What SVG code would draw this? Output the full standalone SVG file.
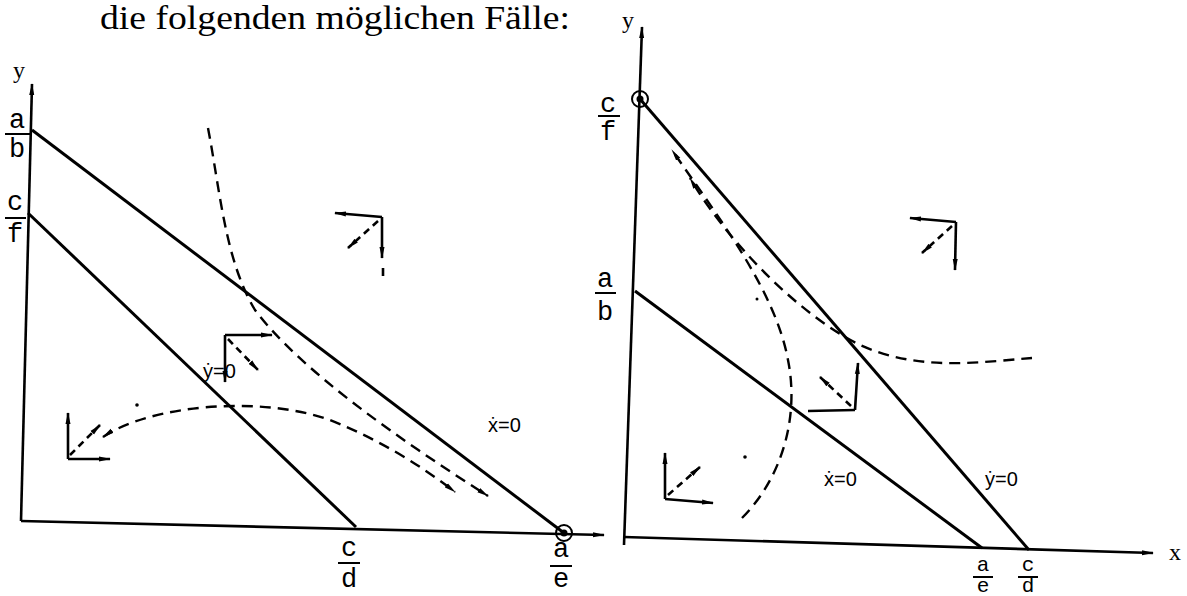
<svg xmlns="http://www.w3.org/2000/svg" width="1187" height="596" viewBox="0 0 1187 596">
<defs>
<marker id="ah" viewBox="0 0 12 6" refX="11" refY="3" markerWidth="12" markerHeight="6" markerUnits="userSpaceOnUse" orient="auto-start-reverse"><path d="M0,0.5 L12,3 L0,5.5 z" fill="#000"/></marker>
<style>
.ax{stroke:#000;stroke-width:2.6;fill:none}
.ln{stroke:#000;stroke-width:3;fill:none}
.ds{stroke:#000;stroke-width:2.4;fill:none;stroke-dasharray:11 7}
.ar{stroke:#000;stroke-width:2.6;fill:none}
.ad{stroke:#000;stroke-width:2.6;fill:none;stroke-dasharray:7 5}
.fr{font-family:"Liberation Mono",monospace;font-size:27px;fill:#000;text-anchor:middle}
.fs{font-family:"Liberation Mono",monospace;font-size:21px;fill:#000;text-anchor:middle}
.lb{font-family:"Liberation Sans",sans-serif;font-size:20px;fill:#000}
.bar{stroke:#000;stroke-width:2}
</style>
</defs>
<rect width="1187" height="596" fill="#fff"/>
<text x="100" y="29" font-family="Liberation Serif,serif" font-size="34" textLength="470" lengthAdjust="spacingAndGlyphs">die folgenden möglichen Fälle:</text>

<g id="left-axes">
<path class="ax" d="M21,521 L32,84" marker-end="url(#ah)"/>
<path class="ax" d="M21,521 L604,535" marker-end="url(#ah)"/>
<text x="13" y="78" font-family="Liberation Serif,serif" font-size="24">y</text>
</g>
<g id="left-line-ab">
<path class="ln" d="M32,130 L564,533"/>
<circle cx="564" cy="533" r="8" fill="none" stroke="#000" stroke-width="2"/>
<circle cx="564" cy="533" r="3.5" fill="#000"/>
</g>
<g id="left-line-cf"><path class="ln" d="M28,213 L356,527"/></g>
<g id="left-labels">
<text class="fr" x="17" y="128">a</text><line class="bar" x1="5" y1="134" x2="30" y2="134"/><text class="fr" x="17" y="157">b</text>
<text class="fr" x="15" y="210">c</text><line class="bar" x1="5" y1="218" x2="26" y2="218"/><text class="fr" x="15" y="242">f</text>
<text class="fr" x="349" y="556">c</text><line class="bar" x1="338" y1="563" x2="360" y2="563"/><text class="fr" x="349" y="587">d</text>
<text class="fr" x="561" y="557">a</text><line class="bar" x1="550" y1="566" x2="572" y2="566"/><text class="fr" x="561" y="587">e</text>
<text class="lb" x="203" y="378">ẏ=0</text>
<text class="lb" x="488" y="432">ẋ=0</text>
</g>
<g id="left-flows">
<path class="ds" d="M208,128 C220,190 225,260 255,310 C300,370 400,440 488,496" marker-end="url(#ah)"/>
<path class="ds" d="M103,437 C150,405 260,395 330,420 C380,440 420,465 455,492" marker-start="url(#ah)" marker-end="url(#ah)"/>
<circle cx="137" cy="405" r="1.8" fill="#000"/>
</g>
<g id="left-cluster-1">
<path class="ar" d="M68,459 L68,413" marker-end="url(#ah)"/>
<path class="ar" d="M68,459 L110,459" marker-end="url(#ah)"/>
<path class="ad" d="M70,455 L100,425" marker-end="url(#ah)"/>
</g>
<g id="left-cluster-2">
<path class="ar" d="M225,335 L272,335" marker-end="url(#ah)"/>
<path class="ar" d="M225,335 L225,382" marker-end="url(#ah)"/>
<path class="ad" d="M228,339 L258,370" marker-end="url(#ah)"/>
</g>
<g id="left-cluster-3">
<path class="ar" d="M382,217 L335,213" marker-end="url(#ah)"/>
<path class="ar" d="M382,217 L382,258" marker-end="url(#ah)"/>
<line class="ar" x1="383" y1="268" x2="383" y2="276"/>
<path class="ad" d="M378,221 L348,248" marker-end="url(#ah)"/>
</g>

<g id="right-axes">
<path class="ax" d="M624,545 L642,27" marker-end="url(#ah)"/>
<path class="ax" d="M624,537 L1153,553" marker-end="url(#ah)"/>
<text x="622" y="28" font-family="Liberation Serif,serif" font-size="24">y</text>
<text x="1169" y="560" font-family="Liberation Serif,serif" font-size="24">x</text>
</g>
<g id="right-line-cf">
<path class="ln" d="M640,99 L1029,550"/>
<circle cx="640" cy="99" r="8" fill="none" stroke="#000" stroke-width="2"/>
<circle cx="640" cy="99" r="3.5" fill="#000"/>
</g>
<g id="right-line-ab"><path class="ln" d="M635,291 L982,548"/></g>
<g id="right-labels">
<text class="fr" x="608" y="112">c</text><line class="bar" x1="598" y1="116" x2="620" y2="116"/><text class="fr" x="608" y="140">f</text>
<text class="fr" x="605" y="287">a</text><line class="bar" x1="595" y1="293" x2="616" y2="293"/><text class="fr" x="605" y="320">b</text>
<text class="fs" x="983" y="571">a</text><line class="bar" x1="973" y1="577" x2="993" y2="577"/><text class="fs" x="983" y="592">e</text>
<text class="fs" x="1028" y="571">c</text><line class="bar" x1="1018" y1="577" x2="1038" y2="577"/><text class="fs" x="1028" y="592">d</text>
<text class="lb" x="824" y="486">ẋ=0</text>
<text class="lb" x="985" y="486">ẏ=0</text>
</g>
<g id="right-flows">
<path class="ds" d="M742,518 C780,480 800,420 788,360 C775,290 720,220 672,150" marker-end="url(#ah)"/>
<path class="ds" d="M1032,358 C980,362 920,372 860,345 C790,310 720,230 690,178" marker-end="url(#ah)"/>
<circle cx="745" cy="457" r="1.8" fill="#000"/>
<circle cx="757" cy="299" r="1.5" fill="#000"/>
</g>
<g id="right-cluster-1">
<path class="ar" d="M665,499 L665,453" marker-end="url(#ah)"/>
<path class="ar" d="M665,499 L713,503" marker-end="url(#ah)"/>
<path class="ad" d="M668,495 L700,467" marker-end="url(#ah)"/>
</g>
<g id="right-cluster-2">
<path class="ar" d="M855,410 L808,411"/>
<path class="ar" d="M855,410 L858,363" marker-end="url(#ah)"/>
<path class="ad" d="M851,406 L820,377" marker-end="url(#ah)"/>
</g>
<g id="right-cluster-3">
<path class="ar" d="M956,222 L910,218" marker-end="url(#ah)"/>
<path class="ar" d="M956,222 L955,270" marker-end="url(#ah)"/>
<path class="ad" d="M952,226 L922,253" marker-end="url(#ah)"/>
</g>
</svg>
